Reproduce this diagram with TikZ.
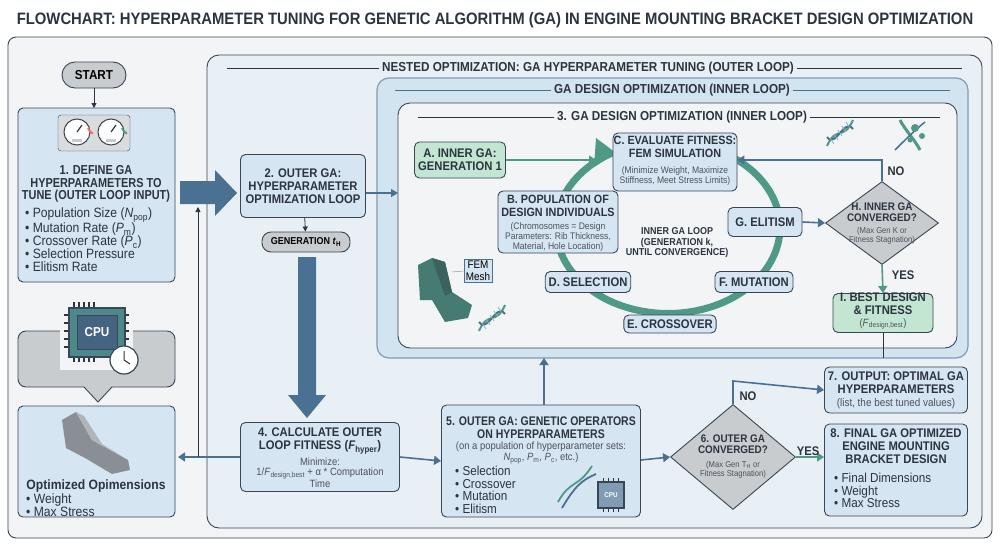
\documentclass[tikz,border=0pt]{standalone}
\usepackage{fontspec}
\setmainfont{Liberation Sans}[FakeStretch=0.9]
\newfontfamily\narrowf{Liberation Sans}[FakeStretch=0.84]
\usetikzlibrary{arrows.meta,shapes.geometric}
\definecolor{frameC}{HTML}{3A4654}
\definecolor{boxB}{HTML}{D5E5F1}
\definecolor{nestB}{HTML}{E8EFF5}
\definecolor{gaB}{HTML}{D3E4F1}
\definecolor{innB}{HTML}{F2F4F6}
\definecolor{arr}{HTML}{4A7092}
\definecolor{grn}{HTML}{C3E6D2}
\definecolor{teal}{HTML}{4F9A86}
\definecolor{gry}{HTML}{C9CCCF}
\definecolor{dark}{HTML}{2C3440}
\tikzset{
 box/.style={draw=frameC,line width=0.9pt,fill=boxB,rounded corners=5pt,align=center,font=\bfseries\fontsize{12.5}{13}\selectfont,text=dark},
 gbox/.style={box,fill=grn},
 pill/.style={draw=frameC,line width=0.9pt,fill=gry,rounded corners=9pt,font=\bfseries\fontsize{11}{12}\selectfont},
 dia/.style={diamond,draw=frameC,line width=0.9pt,fill=gry,aspect=1.15,inner sep=0pt,align=center},
 arrw/.style={draw=arr,line width=2.2pt,-{Triangle[length=7pt,width=9pt]}},
 thin/.style={draw=dark,line width=0.8pt,-{Triangle[length=5pt,width=5pt]}},
 txt/.style={font=\bfseries\fontsize{12.5}{13}\selectfont,align=center,text=dark},
 small/.style={font=\fontsize{10}{10.5}\selectfont,align=center,text=dark!85},
 bul/.style={font=\fontsize{13.5}{13}\selectfont,align=left,text=dark,inner sep=0pt},
 ttl/.style={font=\bfseries\fontsize{13}{14}\selectfont,text=dark},
}
\newcommand{\bl}{\textbullet\ }
\begin{document}
\begin{tikzpicture}[x=1pt,y=-1pt]
\useasboundingbox (0,0) rectangle (1000,546);
\fill[white] (0,0) rectangle (1000,546);
\node[font=\bfseries\fontsize{16.5}{17}\selectfont,text=dark] (title) at (495,20) {FLOWCHART: HYPERPARAMETER TUNING FOR GENETIC ALGORITHM (GA) IN ENGINE MOUNTING BRACKET DESIGN OPTIMIZATION};
\draw[frameC,line width=0.9pt,fill=innB,rounded corners=8pt] (8,37) rectangle (992,538);
% nested
\draw[frameC,line width=0.9pt,fill=nestB,rounded corners=12pt] (207,55) rectangle (982,528);
\node[ttl] (nt) at (588,68) {NESTED OPTIMIZATION: GA HYPERPARAMETER TUNING (OUTER LOOP)};
\draw[dark,line width=0.8pt] (227,68) -- (nt.west) (nt.east) -- (962,68);
\draw[arr!70,line width=1.2pt,fill=gaB,rounded corners=12pt] (377,78) rectangle (968,358);
\node[ttl] (gt) at (672,90) {GA DESIGN OPTIMIZATION (INNER LOOP)};
\draw[arr,line width=0.8pt] (395,90) -- (gt.west) (gt.east) -- (950,90);
\draw[frameC,line width=0.9pt,fill=innB,rounded corners=12pt] (398,103) rectangle (957,348);
\node[ttl] (it) at (682,117) {3. GA DESIGN OPTIMIZATION (INNER LOOP)};
\draw[dark,line width=0.8pt] (418,117) -- (it.west) (it.east) -- (940,117);
% left column
\node[pill,minimum width=64pt,minimum height=26pt,rounded corners=13pt] (start) at (94,75) {\fontsize{13}{13}\selectfont START};
\draw[box] (18,108) rectangle (175,282);
\draw[frameC,fill=gry!70,rounded corners=3pt] (58,115) rectangle (130,151);
\foreach \cx/\cc in {77/red!60,111/teal}{
 \draw[frameC,line width=1pt,fill=white] (\cx,132) circle (13);
 \draw[\cc,line width=2pt] (\cx+11,128) arc (-20:-60:-11);
 \draw[dark,line width=1.2pt] (\cx,132) -- (\cx+5,125);
 \fill[gry] (\cx-5,139) rectangle (\cx+5,142);}
\node[txt,font=\narrowf\bfseries\fontsize{13}{12.8}\selectfont] (b1t) at (96,184) {1. DEFINE GA\\HYPERPARAMETERS TO\\TUNE (OUTER LOOP INPUT)};
\node[bul,anchor=north west] (b1b) at (25,208) {\bl Population Size (\textit{N}\textsubscript{pop})\\\bl Mutation Rate (\textit{P}\textsubscript{m})\\\bl Crossover Rate (\textit{P}\textsubscript{c})\\\bl Selection Pressure\\\bl Elitism Rate};
\draw[thin] (start) -- (94,108);
% block arrow right
\fill[arr] (180,181) -- (215,181) -- (215,170) -- (237,193) -- (215,216) -- (215,204) -- (180,204) -- cycle;
\node[box,minimum width=125pt,minimum height=63pt] (b2) at (303,186) {2. OUTER GA:\\HYPERPARAMETER\\OPTIMIZATION LOOP};
\node[pill,minimum width=88pt,minimum height=20pt] (gen) at (306,242) {\fontsize{10}{10}\selectfont GENERATION \textit{t}\textsubscript{H}};
\draw[thin] (b2) -- (gen);
\draw[arr,line width=1.4pt,-{Triangle[length=7pt,width=8pt]}] (b2.east|-0,193) -- (398,193);
% thick down arrow
\fill[arr] (298,257) -- (316,257) -- (316,395) -- (326,395) -- (307,418) -- (288,395) -- (298,395) -- cycle;
\node[box,minimum width=159pt,minimum height=69pt] (b4) at (320,457) {};
\node[txt] (b4t) at (320,441) {4. CALCULATE OUTER\\LOOP FITNESS (\textit{F}\textsubscript{hyper})};
\node[small,font=\fontsize{10.5}{10}\selectfont] (b4s) at (320,473) {Minimize:\\1/\textit{F}\textsubscript{design,best} + α * Computation\\Time};
% CPU & callout
\draw[frameC,line width=0.9pt,fill=gry,rounded corners=8pt] (18,331) rectangle (175,387);
\fill[gry] (84,386) -- (112,386) -- (98,402) -- cycle;
\draw[frameC,line width=0.9pt] (84,387) -- (98,402) -- (112,387);
\fill[innB] (60,300) rectangle (133,370);
\foreach \i in {0,...,4}{\draw[dark,line width=1.5pt] (74+\i*5,302) -- (74+\i*5,309) (74+\i*5,355) -- (74+\i*5,362);
 \draw[dark,line width=1.5pt] (64,315+\i*8) -- (70,315+\i*8) (123,315+\i*8) -- (129,315+\i*8);}
\draw[frameC,line width=1.5pt,fill=teal!60!arr] (69,308) rectangle (125,357);
\node[draw=frameC,fill=arr!80!dark,text=white,font=\bfseries\fontsize{13}{13}\selectfont,minimum width=40pt,minimum height=34pt] (cpu) at (97,332) {CPU};
\draw[frameC,line width=1.2pt,fill=white] (124,360) circle (14);
\draw[dark,line width=1pt] (124,360) -- (124,351) (124,360) -- (130,364);
% optimized box
\draw[box] (18,406) rectangle (175,517);
\fill[gry!60!dark] (62,420) -- (76,412) -- (92,440) -- (128,460) -- (130,470) -- (112,474) -- (85,458) -- (66,448) -- cycle;
\fill[gry!85!dark] (76,412) -- (84,416) -- (102,444) -- (128,460) -- (92,440) -- cycle;
\node[font=\bfseries\fontsize{13.5}{14}\selectfont,text=dark] (opt) at (96,486) {Optimized Opimensions};
\node[bul,anchor=north west] (optb) at (26,494) {\bl Weight\\\bl Max Stress};
\draw[arrw,line width=1.6pt] (b4.west) -- (178,457);
\draw[thin] (198,457) -- (198,207);
% box5
\node[box,minimum width=199pt,minimum height=112pt] (b5) at (541,461) {};
\node[txt,font=\narrowf\bfseries\fontsize{12.5}{13}\selectfont] (b5t) at (541,428) {5. OUTER GA: GENETIC OPERATORS\\ON HYPERPARAMETERS};
\node[small,font=\fontsize{10.5}{10.5}\selectfont] (b5s) at (541,453) {(on a population of hyperparameter sets:\\\textit{N}\textsubscript{pop}, \textit{P}\textsubscript{m}, \textit{P}\textsubscript{c}, etc.)};
\node[bul,font=\fontsize{13}{12.5}\selectfont,anchor=north west] (b5b) at (455,466) {\bl Selection\\\bl Crossover\\\bl Mutation\\\bl Elitism};
\draw[teal,line width=1.8pt] (558,502) .. controls (570,480) and (578,488) .. (592,466);
\draw[arr,line width=1.8pt] (562,508) .. controls (575,486) and (582,480) .. (596,474);
\foreach \i in {0,...,3}{\draw[dark,line width=1pt] (603+\i*5,478) -- (603+\i*5,482) (603+\i*5,508) -- (603+\i*5,512);}
\draw[frameC,line width=1.2pt,fill=arr!70] (598,482) rectangle (624,508);
\node[text=white,font=\bfseries\fontsize{7}{7}\selectfont] (cpu2) at (611,495) {CPU};
\draw[arrw,line width=1.6pt] (b4.east) -- (b5.west);
\draw[arrw,line width=1.6pt] (b5.north-|544,0) -- (544,358);
% diamond 6
\node[dia,minimum width=125pt,minimum height=105pt] (d6) at (733,457) {};
\node[txt,font=\bfseries\fontsize{11}{11.5}\selectfont] (d6t) at (733,444) {6. OUTER GA\\CONVERGED?};
\node[small,font=\fontsize{8.5}{9.5}\selectfont] (d6s) at (733,470) {(Max Gen T\textsubscript{H} or\\Fitness Stagnation)};
\draw[arrw,line width=1.6pt] (b5.east|-0,460) -- (d6.west);
\node[box,minimum width=143pt,minimum height=46pt] (b7) at (896,390) {};
\node[txt] (b7t) at (896,383) {7. OUTPUT: OPTIMAL GA\\HYPERPARAMETERS};
\node[small,font=\fontsize{11}{11}\selectfont] (b7s) at (896,404) {(list, the best tuned values)};
\draw[arrw,line width=1.6pt] (d6.north) -- (733,381) -- (b7.west);
\node[txt] (no6) at (748,396) {NO};
\node[box,minimum width=143pt,minimum height=92pt] (b8) at (896,470) {};
\node[txt] (b8t) at (896,446) {8. FINAL GA OPTIMIZED\\ENGINE MOUNTING\\BRACKET DESIGN};
\node[bul,font=\fontsize{13}{12.5}\selectfont,anchor=north west] (b8b) at (834,473) {\bl Final Dimensions\\\bl Weight\\\bl Max Stress};
\draw[arrw,draw=teal,line width=1.6pt] (d6.east) -- (b8.west|-0,457);
\node[txt] (yes6) at (808,451) {YES};
% inner loop ring
\draw[teal,line width=7pt] (612,153) arc (240:-95:112 and 86);
\fill[teal] (596,138) -- (616,153) -- (594,167) -- cycle;
\node[small,font=\bfseries\fontsize{10}{10.5}\selectfont,text=dark] (loop) at (677,243) {INNER GA LOOP\\(GENERATION k,\\UNTIL CONVERGENCE)};
\node[gbox,minimum width=91pt,minimum height=36pt] (A) at (460,160) {A. INNER GA:\\GENERATION 1};
\node[box,minimum width=124pt,minimum height=58pt] (C) at (675,162) {};
\node[txt,font=\bfseries\fontsize{12}{12.5}\selectfont] (Ct) at (675,147) {C. EVALUATE FITNESS:\\FEM SIMULATION};
\node[small,font=\fontsize{9.5}{10}\selectfont] (Cs) at (675,176) {(Minimize Weight, Maximize\\Stiffness, Meet Stress Limits)};
\node[box,minimum width=120pt,minimum height=62pt] (B) at (558,222) {};
\node[txt,font=\bfseries\fontsize{12}{12.5}\selectfont] (Bt) at (558,206) {B. POPULATION OF\\DESIGN INDIVIDUALS};
\node[small,font=\fontsize{9.5}{10}\selectfont] (Bs) at (558,237) {(Chromosomes = Design\\Parameters: Rib Thickness,\\Material, Hole Location)};
\node[box,minimum width=82pt,minimum height=21pt] (D) at (588,282) {D. SELECTION};
\node[box,minimum width=80pt,minimum height=18pt] (E) at (670,324) {E. CROSSOVER};
\node[box,minimum width=78pt,minimum height=21pt] (F) at (754,282) {F. MUTATION};
\node[box,minimum width=74pt,minimum height=29pt] (G) at (765,222) {G. ELITISM};
\draw[arrw,draw=teal,line width=1.6pt] (A.east) -- (596,160);
\node[dia,minimum width=113pt,minimum height=83pt] (H) at (882,223) {};
\node[txt,font=\bfseries\fontsize{11}{11.5}\selectfont] (Ht) at (882,212) {H. INNER GA\\CONVERGED?};
\node[small,font=\fontsize{8.5}{9.5}\selectfont] (Hs) at (882,236) {(Max Gen K or\\Fitness Stagnation)};
\draw[arrw,line width=1.6pt] (G.east) -- (H.west);
\draw[arrw,line width=1.6pt] (H.north) -- (882,160) -- (C.east|-0,160);
\node[txt] (noH) at (896,171) {NO};
\node[gbox,minimum width=100pt,minimum height=39pt] (I) at (883,313) {};
\node[txt] (It) at (883,304) {I. BEST DESIGN\\\& FITNESS};
\node[small,font=\fontsize{10.5}{10}\selectfont] (Is) at (883,324) {(\textit{F}\textsubscript{design,best})};
\draw[arrw,draw=teal,line width=1.6pt] (H.south) -- (I.north);
\node[txt] (yesH) at (903,275) {YES};
\draw[dark,line width=0.8pt] (I.south) -- (883,358);
% icons: DNA
\foreach \dx/\dy/\nm in {840/133/dna1,492/318/dna2}{
 \draw[teal,line width=2pt] (\dx-13,\dy+13) .. controls (\dx-4,\dy-8) and (\dx+4,\dy+8) .. (\dx+13,\dy-13);
 \draw[arr,line width=2pt] (\dx-13,\dy+4) .. controls (\dx-4,\dy+16) and (\dx+4,\dy-16) .. (\dx+13,\dy-4);
 \foreach \k in {-8,-4,0,4,8}{\draw[teal!70,line width=0.8pt] (\dx+\k-2,\dy-\k-3) -- (\dx+\k+2,\dy-\k+3);}
 \coordinate (\nm) at (\dx,\dy);}
\draw[teal,line width=3pt] (900,120) .. controls (905,130) and (915,140) .. (920,150);
\draw[arr,line width=1.5pt] (895,150) .. controls (905,140) and (915,130) .. (925,122);
\fill[teal] (915,128) circle (4) (922,136) circle (3) (910,140) circle (2.5);
% bracket
\fill[teal!70!dark] (418,265) -- (432,258) -- (445,262) -- (452,292) -- (472,305) -- (468,318) -- (445,322) -- (432,300) -- (420,300) -- cycle;
\fill[teal!45!dark] (432,258) -- (445,262) -- (452,292) -- (445,296) -- cycle;
\node[draw=arr,fill=boxB,font=\fontsize{11}{11.5}\selectfont,align=center,inner sep=2pt] (fem) at (478,271) {FEM\\Mesh};
\draw[dark!50,line width=0.5pt] (452,272) -- (fem.west);
\end{tikzpicture}
\end{document}
